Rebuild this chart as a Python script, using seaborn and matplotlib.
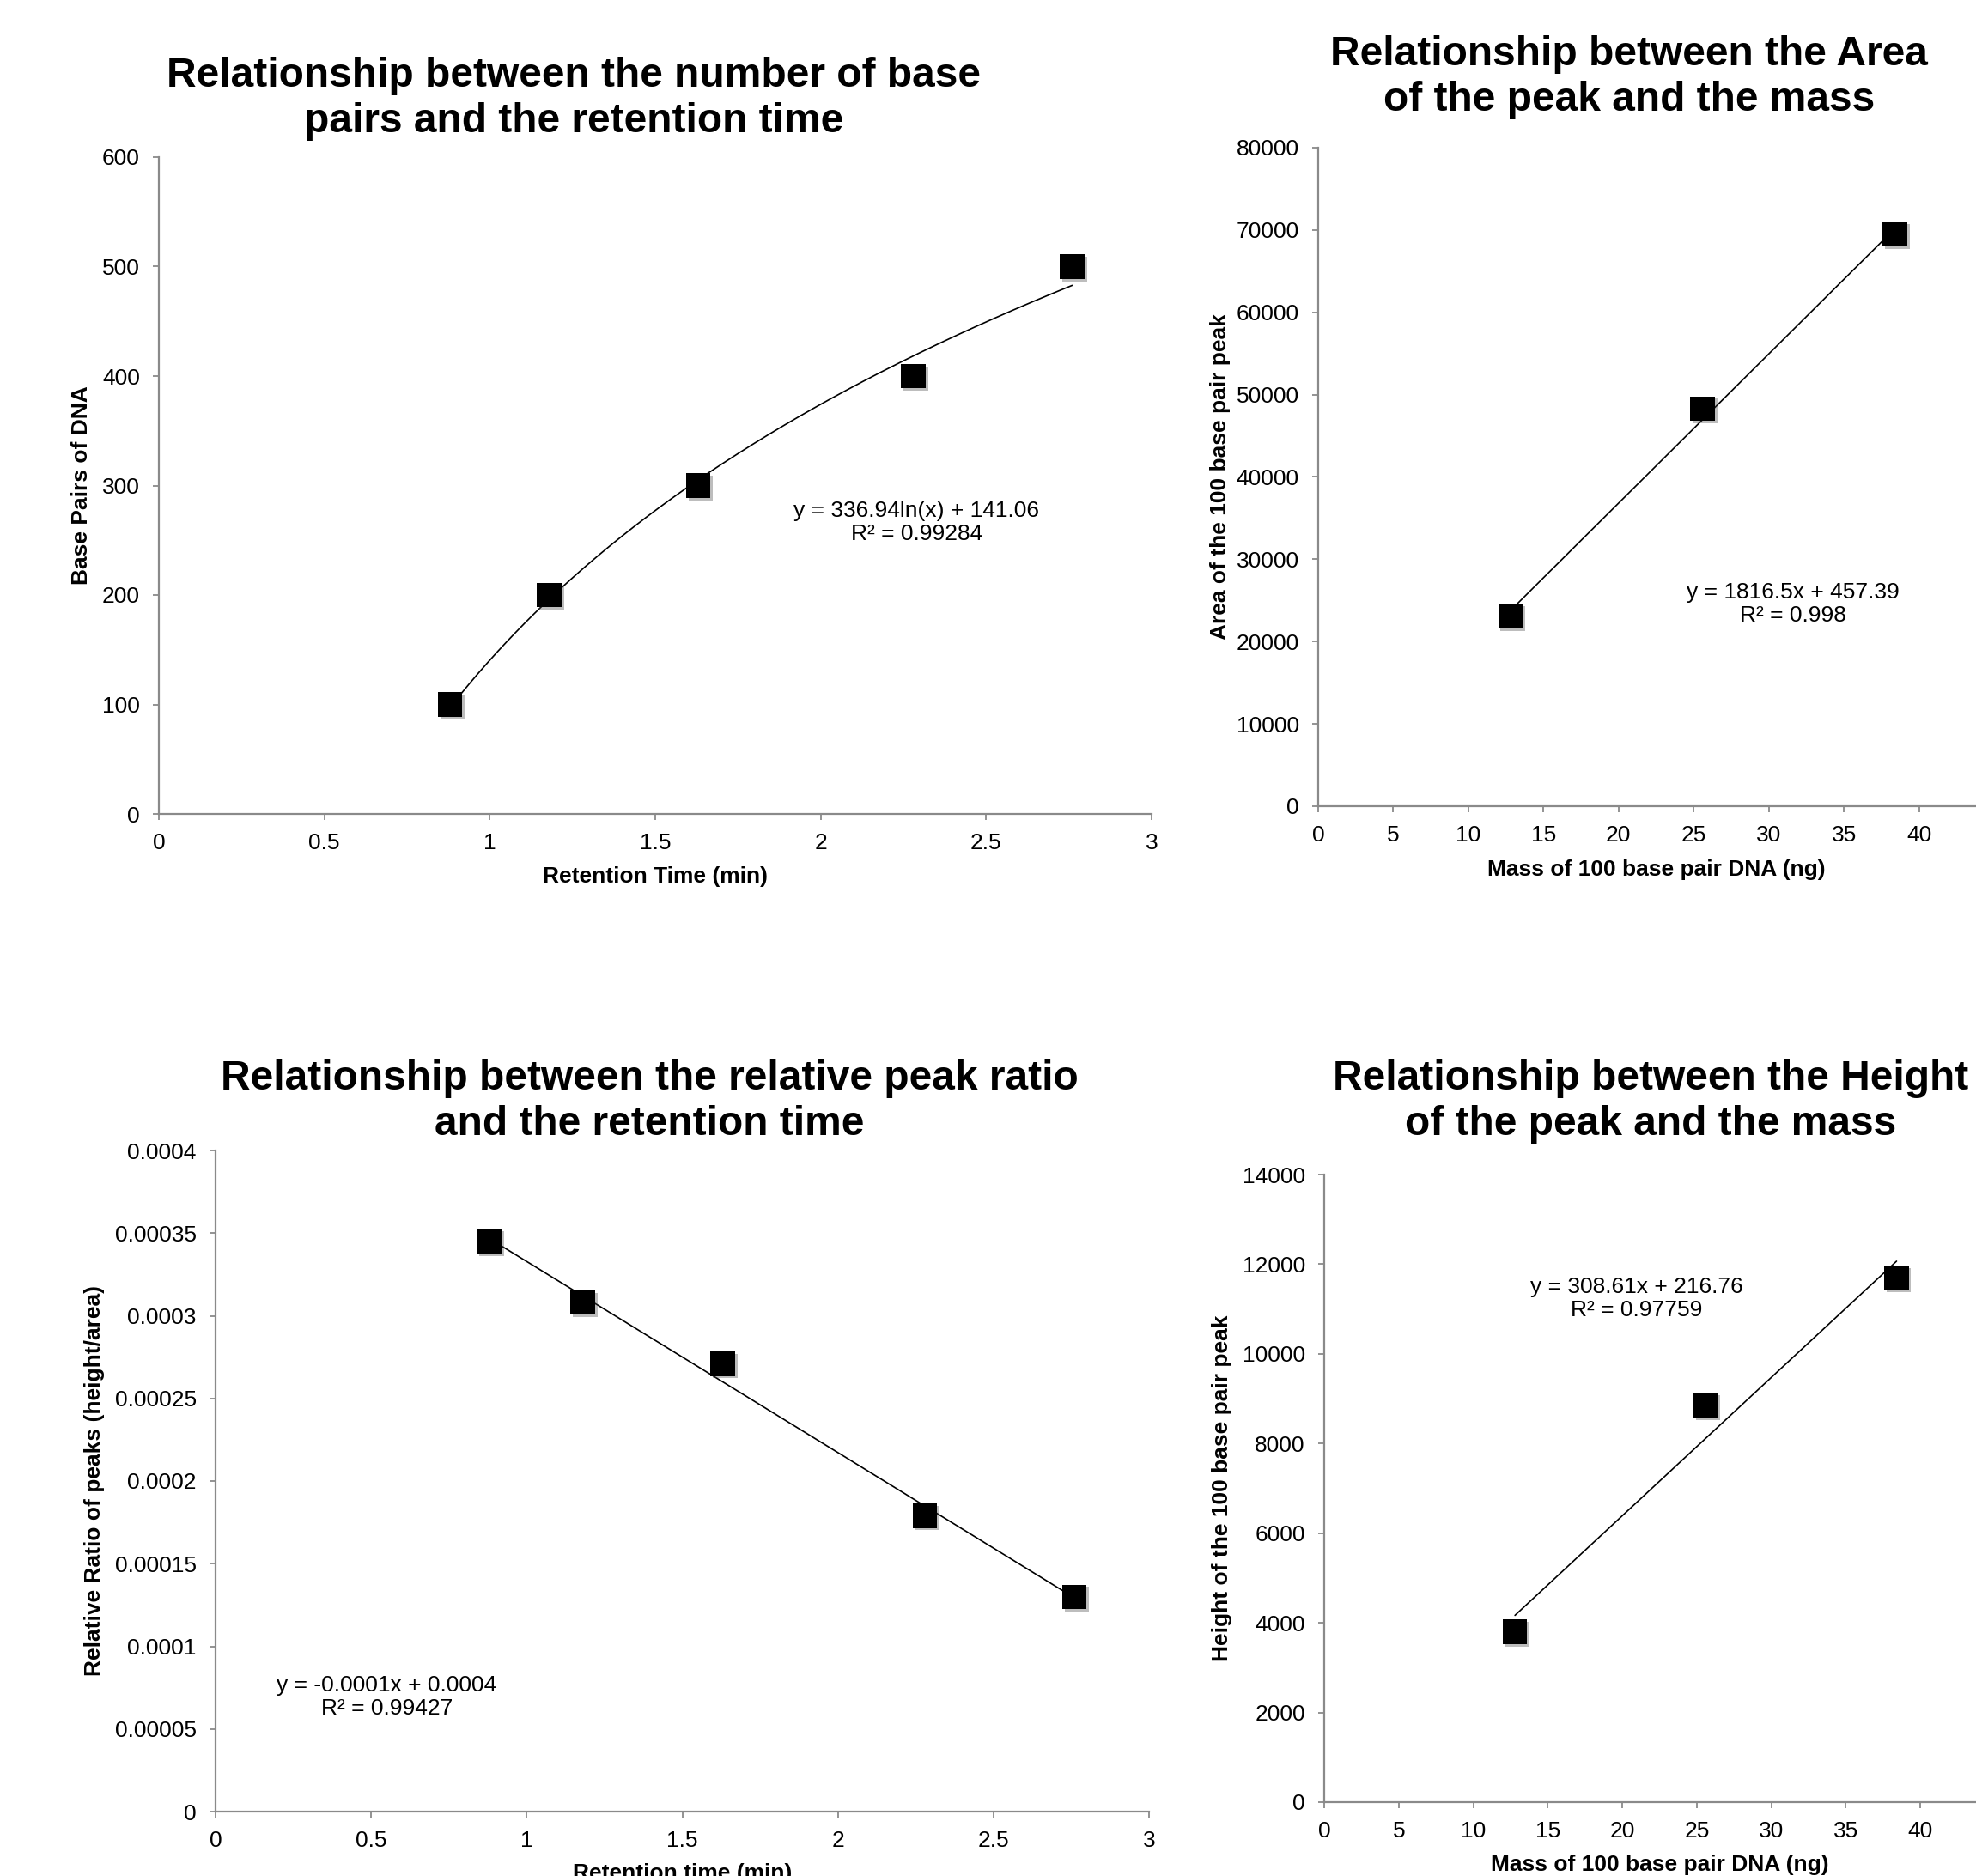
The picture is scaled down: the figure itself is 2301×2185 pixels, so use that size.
import numpy as np
import pandas as pd
import matplotlib
matplotlib.use("Agg")
import matplotlib.pyplot as plt
import matplotlib.patheffects as pe
import seaborn as sns

# ---------------- data ----------------
ret_time = [0.88, 1.18, 1.63, 2.28, 2.76]
base_pairs = [100, 200, 300, 400, 500]
peak_ratio = [0.000345, 0.000308, 0.000271, 0.000179, 0.000130]

mass_ng = [12.8, 25.6, 38.4]
peak_area = [23100, 48300, 69500]
peak_height = [3800, 8850, 11700]

titles = [
    "Relationship between the number of base\npairs and the retention time",
    "Relationship between the Area\nof the peak and the mass",
    "Relationship between the relative peak ratio\nand the retention time",
    "Relationship between the Height\nof the peak and the mass",
]
eq_texts = [
    "y = 336.94ln(x) + 141.06\nR² = 0.99284",
    "y = 1816.5x + 457.39\nR² = 0.998",
    "y = -0.0001x + 0.0004\nR² = 0.99427",
    "y = 308.61x + 216.76\nR² = 0.97759",
]
xlabels = ["Retention Time (min)", "Mass of 100 base pair DNA (ng)",
           "Retention time (min)", "Mass of 100 base pair DNA (ng)"]
ylabels = ["Base Pairs of DNA", "Area of the 100 base pair peak",
           "Relative Ratio of peaks (height/area)", "Height of the 100 base pair peak"]

time_ticks = [0, 0.5, 1, 1.5, 2, 2.5, 3]
mass_ticks = [0, 5, 10, 15, 20, 25, 30, 35, 40]
bp_ticks = [0, 100, 200, 300, 400, 500, 600]
area_ticks = [0, 10000, 20000, 30000, 40000, 50000, 60000, 70000, 80000]
ratio_ticks = [0, 0.00005, 0.0001, 0.00015, 0.0002, 0.00025, 0.0003, 0.00035, 0.0004]
ratio_tick_labels = ["0", "0.00005", "0.0001", "0.00015", "0.0002", "0.00025",
                     "0.0003", "0.00035", "0.0004"]
height_ticks = [0, 2000, 4000, 6000, 8000, 10000, 12000, 14000]

# ---------------- style ----------------
sns.set_theme(style="white")
plt.rcParams['font.family'] = ['Liberation Sans', 'DejaVu Sans']
plt.rcParams['text.color'] = 'black'
plt.rcParams['axes.labelcolor'] = 'black'
plt.rcParams['xtick.color'] = 'black'
plt.rcParams['ytick.color'] = 'black'

fig = plt.figure(figsize=(23.01, 21.85), dpi=100)
W, H = 2301, 2185

def axes_px(left, top, right, bottom):
    return fig.add_axes([left / W, 1 - bottom / H, (right - left) / W, (bottom - top) / H])

ax_tl = axes_px(185, 183, 1341, 948)
ax_tr = axes_px(1535, 172, 2322, 939)
ax_bl = axes_px(251, 1340, 1338, 2110)
ax_br = axes_px(1542, 1368, 2323, 2099)

GRAY = "#8a8a8a"
shadow = [pe.SimplePatchShadow(offset=(2, -2), alpha=0.35, shadow_rgbFace="#444444"), pe.Normal()]

def style_axis(ax):
    for s in ["top", "right"]:
        ax.spines[s].set_visible(False)
    for s in ["left", "bottom"]:
        ax.spines[s].set_color(GRAY)
        ax.spines[s].set_linewidth(1.6)
    ax.tick_params(axis="both", direction="out", length=5, width=1.3, color=GRAY,
                   labelsize=19, pad=11, labelcolor="black",
                   left=True, bottom=True)
    ax.grid(False)

def scatter(ax, x, y):
    df = pd.DataFrame({"x": x, "y": y})
    sns.scatterplot(data=df, x="x", y="y", marker="s", s=420, color="black",
                    edgecolor="black", linewidth=0, ax=ax, zorder=3)
    for c in ax.collections:
        c.set_path_effects(shadow)
        c.set_clip_on(False)

def linear_trend(ax, x, y):
    k, b = np.polyfit(x, y, 1)
    xs = np.array([min(x), max(x)])
    sns.lineplot(x=xs, y=k * xs + b, color="black", linewidth=1.2, ax=ax, zorder=2)

def log_trend(ax, x, y):
    a, b = np.polyfit(np.log(x), y, 1)
    xs = np.linspace(min(x), max(x), 200)
    sns.lineplot(x=xs, y=a * np.log(xs) + b, color="black", linewidth=1.2, ax=ax, zorder=2)

def fmt_g(v):
    return f"{v:g}"

# top-left
log_trend(ax_tl, ret_time, base_pairs)
scatter(ax_tl, ret_time, base_pairs)
ax_tl.set_xlim(0, 3); ax_tl.set_ylim(0, 600)
ax_tl.set_xticks(time_ticks, [fmt_g(v) for v in time_ticks])
ax_tl.set_yticks(bp_ticks, [fmt_g(v) for v in bp_ticks])

# top-right
linear_trend(ax_tr, mass_ng, peak_area)
scatter(ax_tr, mass_ng, peak_area)
ax_tr.set_xlim(0, 45); ax_tr.set_ylim(0, 80000)
ax_tr.set_xticks(mass_ticks, [fmt_g(v) for v in mass_ticks])
ax_tr.set_yticks(area_ticks, [str(v) for v in area_ticks])

# bottom-left
linear_trend(ax_bl, ret_time, peak_ratio)
scatter(ax_bl, ret_time, peak_ratio)
ax_bl.set_xlim(0, 3); ax_bl.set_ylim(0, 0.0004)
ax_bl.set_xticks(time_ticks, [fmt_g(v) for v in time_ticks])
ax_bl.set_yticks(ratio_ticks, ratio_tick_labels)

# bottom-right
linear_trend(ax_br, mass_ng, peak_height)
scatter(ax_br, mass_ng, peak_height)
ax_br.set_xlim(0, 45); ax_br.set_ylim(0, 14000)
ax_br.set_xticks(mass_ticks, [fmt_g(v) for v in mass_ticks])
ax_br.set_yticks(height_ticks, [str(v) for v in height_ticks])

axes = [ax_tl, ax_tr, ax_bl, ax_br]
ylab_x = [-0.0779, -0.1454, -0.1297, -0.1524]
xlab_y = [-0.0954, -0.096, -0.0935, -0.0999]
eq_pos = [(2.29, 266), (31.6, 24600), (0.55, 0.0000695), (20.97, 11230)]
title_pos = [(668 / W, 1 - 115 / H), (1897 / W, 1 - 90 / H),
             (756 / W, 1 - 1283 / H), (1922 / W, 1 - 1283 / H)]

for i, ax in enumerate(axes):
    style_axis(ax)
    ax.set_xlabel(xlabels[i], fontsize=19, fontweight="bold", color="black")
    ax.set_ylabel(ylabels[i], fontsize=19, fontweight="bold", color="black")
    ax.xaxis.label.set_va("center")
    ax.yaxis.label.set_va("center")
    ax.xaxis.set_label_coords(0.5, xlab_y[i])
    ax.yaxis.set_label_coords(ylab_x[i], 0.5)
    ax.text(eq_pos[i][0], eq_pos[i][1], eq_texts[i], ha="center", va="center",
            fontsize=19, linespacing=1.15, color="black")
    fig.text(title_pos[i][0], title_pos[i][1], titles[i], ha="center", va="center",
             fontsize=34.5, fontweight="bold", linespacing=1.25, color="black")

fig.savefig("out.png", dpi=100)
